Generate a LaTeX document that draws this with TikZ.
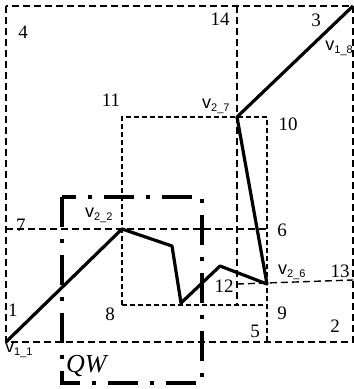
\documentclass[tikz,border=0pt]{standalone}
\usepackage{fontspec}
\setmainfont{Liberation Serif}
\newfontfamily\vsans{Liberation Sans}
\newcommand{\vlab}[1]{v\raisebox{-3.5pt}{\fontsize{11}{11}\selectfont #1}}
\begin{document}
\begin{tikzpicture}[x=1pt,y=-1pt,
  outerdash/.style={line width=1.4pt, dash pattern=on 7pt off 4pt},
  thindash/.style={line width=1.1pt, dash pattern=on 5pt off 3pt},
  poly/.style={line width=3.2pt, line join=round},
  qwline/.style={line width=4pt, dash pattern=on 30pt off 12pt on 4pt off 12pt},
  num/.style={font=\fontsize{19}{19}\selectfont, inner sep=0pt},
  vl/.style={font=\vsans\fontsize{18}{18}\selectfont, inner sep=0pt}]
\useasboundingbox (0,0) rectangle (354,389);
% dashed grid lines
\draw[outerdash] (6,6) rectangle (353,342);
\draw[outerdash] (6,229) -- (267,229);
\draw[outerdash] (237,6) -- (237,305);
\draw[outerdash] (237,284) -- (353,280);
\draw[thindash] (122,305) -- (122,117) -- (267,117) -- (267,342);
\draw[thindash] (122,305) -- (267,305);
% QW dash-dot rectangle
\draw[qwline] (62,197) -- (62,383) -- (202,383) -- (202,197) -- cycle;
% polyline vertices
\coordinate (v11) at (6,342);
\coordinate (v22) at (122,229);
\coordinate (pa) at (172,246);
\coordinate (pb) at (181,303);
\coordinate (pc) at (220,266);
\coordinate (v26) at (267,284);
\coordinate (v27) at (237,117);
\coordinate (v18) at (353,6);
\draw[poly] (v11) -- (v22) -- (pa) -- (pb) -- (pc) -- (v26) -- (v27) -- (v18);
% number labels
\node[num] (n1) at (13,310) {1};
\node[num] (n2) at (335,326) {2};
\node[num] (n3) at (316,20) {3};
\node[num] (n4) at (23,32) {4};
\node[num] (n5) at (255,331) {5};
\node[num] (n6) at (282,230) {6};
\node[num] (n7) at (21,225) {7};
\node[num] (n8) at (110,314) {8};
\node[num] (n9) at (282,313) {9};
\node[num] (n10) at (288,124) {10};
\node[num] (n11) at (111,100) {11};
\node[num] (n12) at (224,286) {12};
\node[num] (n13) at (340,271) {13};
\node[num] (n14) at (220,19) {14};
% vertex labels
\node[vl, anchor=base west] (l11) at (5,352) {\vlab{1\_1}};
\node[vl, anchor=base west] (l22) at (85,217) {\vlab{2\_2}};
\node[vl, anchor=base west] (l27) at (202,108) {\vlab{2\_7}};
\node[vl, anchor=base west] (l26) at (278,274) {\vlab{2\_6}};
\node[vl, anchor=base east] (l18) at (353,50) {\vlab{1\_8}};
\node[font=\itshape\fontsize{26}{26}\selectfont, inner sep=0pt, anchor=base west] (qw) at (66,372) {QW};
\end{tikzpicture}
\end{document}
